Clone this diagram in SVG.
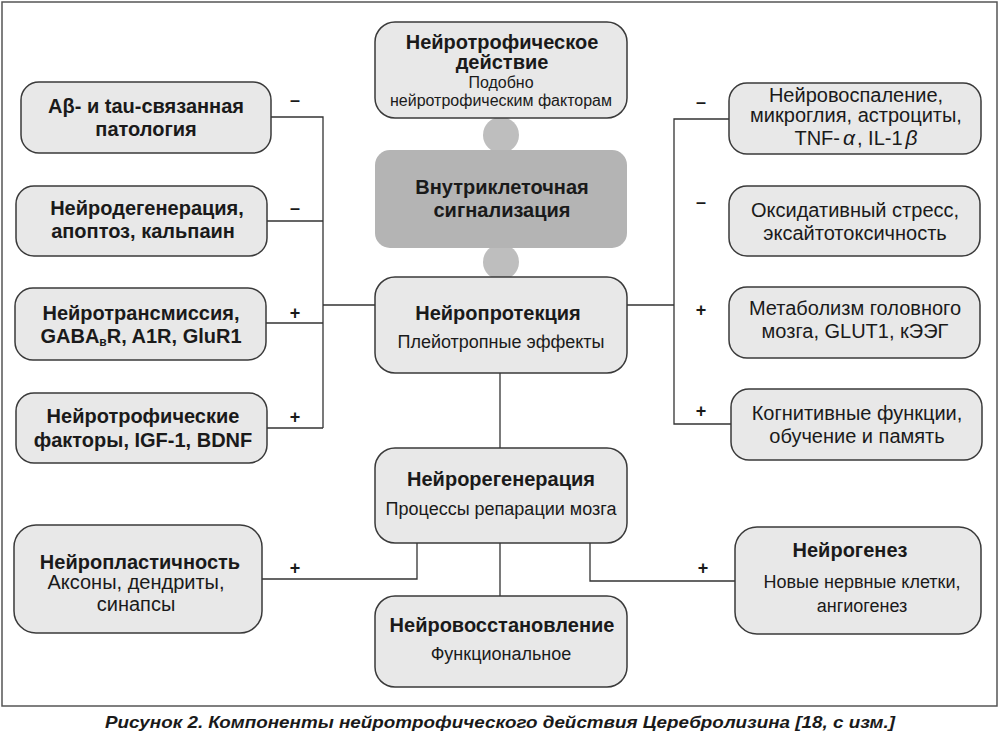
<svg xmlns="http://www.w3.org/2000/svg" width="1000" height="737" viewBox="0 0 1000 737">
<style>
text{font-family:"Liberation Sans",Arial,sans-serif;fill:#1a1a1a;text-anchor:middle}
.b{font-weight:bold;font-size:20px}
.r{font-size:20px}
.r18{font-size:18px}
.r16{font-size:16px}
.node{fill:#e8e8e8;stroke:#3a3a3a;stroke-width:1.5}
.sig{fill:#b4b4b4}
.blob{fill:#bebebe}
.conn{fill:none;stroke:#333;stroke-width:1.3}
.sign{font-weight:bold;font-size:18px}
.gr{font-style:italic;font-size:21px}
.cap{font-weight:bold;font-style:italic;font-size:17px}
</style>
<rect x="0" y="0" width="1000" height="737" fill="#fff"/>
<rect x="2" y="2" width="995" height="704" fill="#fff" stroke="#555" stroke-width="1.5"/>

<g id="connectors">
<path class="conn" d="M271 117H323V428M267 221H323M266 323H323M267 428H323M323 305H375"/>
<path class="conn" d="M729 119H674V424H731M627 305H674"/>
<path class="conn" d="M500 373V448"/>
<path class="conn" d="M417 543V579H262M500 543V596M590 543V581H735"/>
<circle class="blob" cx="501" cy="135" r="18"/>
<circle class="blob" cx="501" cy="262" r="18"/>
</g>

<g id="signs">
<text class="sign" x="295" y="106">–</text>
<text class="sign" x="295" y="214">–</text>
<text class="sign" x="295" y="319">+</text>
<text class="sign" x="295" y="423">+</text>
<text class="sign" x="701" y="108">–</text>
<text class="sign" x="701" y="208">–</text>
<text class="sign" x="701" y="316">+</text>
<text class="sign" x="701" y="417">+</text>
<text class="sign" x="295" y="574">+</text>
<text class="sign" x="703" y="574">+</text>
</g>

<g id="n-trophic">
<rect class="node" x="375" y="22" width="252" height="96" rx="20"/>
<text class="b" x="502" y="49">Нейротрофическое</text>
<text class="b" x="502" y="69">действие</text>
<text class="r16" x="501" y="88">Подобно</text>
<text class="r16" x="501" y="106">нейротрофическим факторам</text>
</g>

<g id="n-signal">
<rect class="sig" x="375" y="150" width="252" height="98" rx="15"/>
<text class="b" x="502" y="194">Внутриклеточная</text>
<text class="b" x="502" y="217">сигнализация</text>
</g>

<g id="n-protect">
<rect class="node" x="375" y="277" width="252" height="96" rx="20"/>
<text class="b" x="498" y="320">Нейропротекция</text>
<text class="r18" x="501" y="348">Плейотропные эффекты</text>
</g>

<g id="n-regen">
<rect class="node" x="375" y="448" width="252" height="95" rx="20"/>
<text class="b" x="501" y="486">Нейрорегенерация</text>
<text class="r18" x="501" y="515">Процессы репарации мозга</text>
</g>

<g id="n-restore">
<rect class="node" x="375" y="596" width="252" height="91" rx="20"/>
<text class="b" x="502" y="632">Нейровосстановление</text>
<text class="r18" x="501" y="660">Функциональное</text>
</g>

<g id="n-abeta">
<rect class="node" x="21" y="82" width="250" height="71" rx="18"/>
<text class="b" x="146" y="113">Aβ- и tau-связанная</text>
<text class="b" x="146" y="136">патология</text>
</g>

<g id="n-degen">
<rect class="node" x="16" y="186" width="251" height="70" rx="18"/>
<text class="b" x="147" y="215">Нейродегенерация,</text>
<text class="b" x="143" y="238">апоптоз, кальпаин</text>
</g>

<g id="n-transm">
<rect class="node" x="15" y="288" width="251" height="72" rx="18"/>
<text class="b" x="141" y="320">Нейротрансмиссия,</text>
<text class="b" x="141" y="343">GABA<tspan font-size="12" dy="3">в</tspan><tspan dy="-3">R, A1R, GluR1</tspan></text>
</g>

<g id="n-factors">
<rect class="node" x="16" y="393" width="251" height="70" rx="18"/>
<text class="b" x="143" y="423">Нейротрофические</text>
<text class="b" x="143" y="447">факторы, IGF-1, BDNF</text>
</g>

<g id="n-inflam">
<rect class="node" x="729" y="83" width="252" height="71" rx="18"/>
<text class="r" x="856" y="102">Нейровоспаление,</text>
<text class="r" x="856" y="122">микроглия, астроциты,</text>
<text class="r" x="856" y="145">TNF-<tspan class="gr" dx="3">α</tspan><tspan dx="2">, IL-1</tspan><tspan class="gr" dx="3">β</tspan></text>
</g>

<g id="n-oxid">
<rect class="node" x="729" y="186" width="251" height="70" rx="18"/>
<text class="r" x="855" y="217">Оксидативный стресс,</text>
<text class="r" x="855" y="240">эксайтотоксичность</text>
</g>

<g id="n-metab">
<rect class="node" x="729" y="287" width="251" height="71" rx="18"/>
<text class="r" x="855" y="315">Метаболизм головного</text>
<text class="r" x="855" y="338">мозга, GLUT1, кЭЭГ</text>
</g>

<g id="n-cogn">
<rect class="node" x="731" y="389" width="251" height="71" rx="18"/>
<text class="r" x="857" y="420">Когнитивные функции,</text>
<text class="r" x="857" y="443">обучение и память</text>
</g>

<g id="n-plast">
<rect class="node" x="14" y="525" width="248" height="108" rx="22"/>
<text class="b" x="140" y="569">Нейропластичность</text>
<text class="r" x="136" y="589">Аксоны, дендриты,</text>
<text class="r" x="136" y="611">синапсы</text>
</g>

<g id="n-neurogen">
<rect class="node" x="735" y="527" width="246" height="107" rx="22"/>
<text class="b" x="850" y="557">Нейрогенез</text>
<text class="r18" x="862" y="588">Новые нервные клетки,</text>
<text class="r18" x="862" y="612">ангиогенез</text>
</g>

<text class="cap" x="500" y="728" textLength="790" lengthAdjust="spacingAndGlyphs">Рисунок 2. Компоненты нейротрофического действия Церебролизина [18, с изм.]</text>
</svg>
